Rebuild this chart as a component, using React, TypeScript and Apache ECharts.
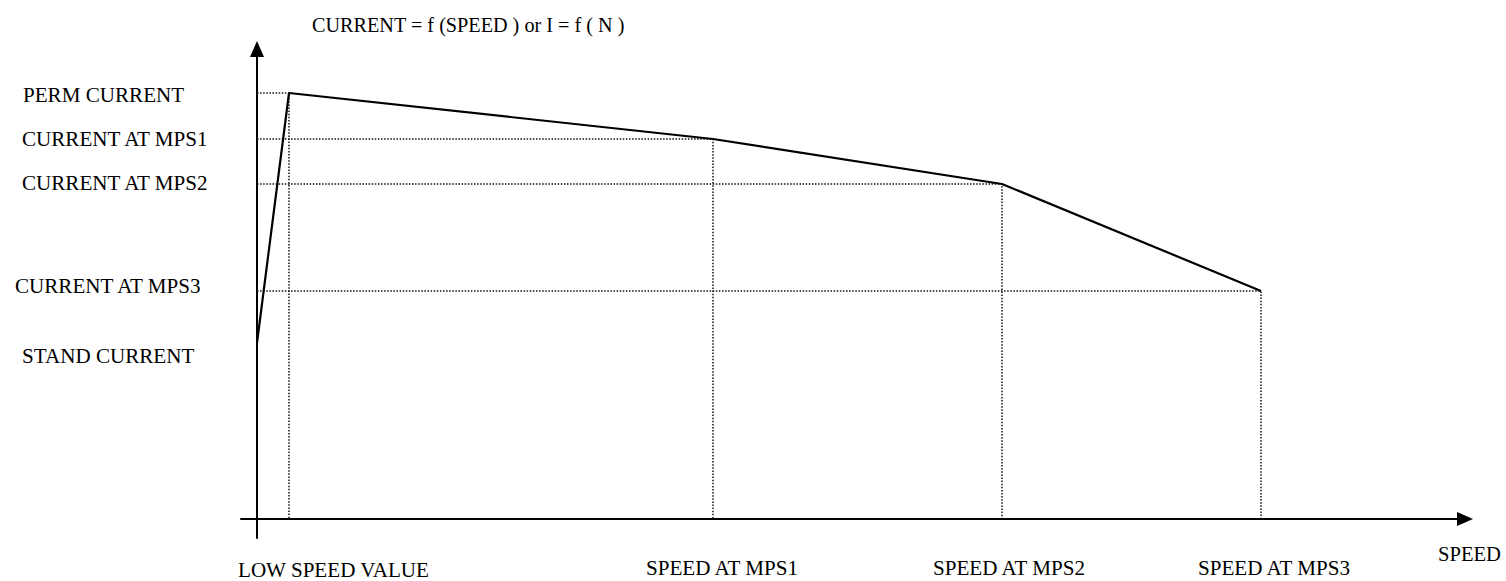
import React, { useEffect, useRef } from "react";
import * as echarts from "echarts";

const speedNames = ["LOW SPEED VALUE", "SPEED AT MPS1", "SPEED AT MPS2", "SPEED AT MPS3"];
const currentNames = ["PERM CURRENT", "CURRENT AT MPS1", "CURRENT AT MPS2", "CURRENT AT MPS3"];
const standName = "STAND CURRENT";
const speedValues = [32, 456, 745, 1004];
const currentValues = [426, 380, 335, 228];
const standCurrent = 176;
const titleText = "CURRENT = f (SPEED ) or I = f ( N )";
const xAxisName = "SPEED";

// ---- layout (pixel positions of the text, not data) ----
const FONT = '20px "Liberation Serif", "Times New Roman", serif';
const STRETCH = 1.055;
const leftLabelPos: [number, number][] = [
  [23, 95.5],
  [22, 139.5],
  [22, 183.5],
  [15, 286],
];
const standLabelPos: [number, number] = [22, 356];
const bottomLabelPos: [number, number][] = [
  [238, 570.5],
  [646, 568.5],
  [933, 568.5],
  [1198, 568.5],
];
const titlePos: [number, number] = [312, 25.5];
const axisNamePos: [number, number] = [1438, 554.5];

function txt(text: string, pos: [number, number], sx = STRETCH) {
  return {
    type: "text",
    x: pos[0],
    y: pos[1],
    scaleX: sx,
    silent: true,
    style: {
      text,
      font: FONT,
      fill: "#000",
      align: "left",
      textAlign: "left",
      verticalAlign: "middle",
      textVerticalAlign: "middle",
    },
  };
}

export default function App() {
  const ref = useRef<HTMLDivElement>(null);

  useEffect(() => {
    if (!ref.current) return;
    const chart = echarts.init(ref.current, null, { renderer: "svg" });

    const curve = [[0, standCurrent], ...speedValues.map((s, i) => [s, currentValues[i]])];
    const guideSeries = speedValues.map((s, i) => ({
      type: "line",
      data: [
        [0, currentValues[i]],
        [s, currentValues[i]],
        [s, 0],
      ],
      symbol: "none",
      silent: true,
      z: 1,
      lineStyle: { color: "#111", width: 1.5, type: [1.5, 1.6] },
    }));

    const axisLine = {
      show: true,
      onZero: true,
      symbol: ["none", "triangle"],
      symbolSize: [14, 16],
      lineStyle: { color: "#000", width: 2 },
    };

    const graphics: any[] = [
      txt(titleText, titlePos, 1.01),
      ...currentNames.map((n, i) => txt(n, leftLabelPos[i])),
      txt(standName, standLabelPos),
      ...speedNames.map((n, i) => txt(n, bottomLabelPos[i])),
      txt(xAxisName, axisNamePos, 1.03),
    ];

    chart.setOption({
      animation: false,
      backgroundColor: "#fff",
      grid: { left: 241, right: 41, top: 49, bottom: 43, containLabel: false },
      xAxis: {
        type: "value",
        min: -16,
        max: 1208,
        axisLine,
        axisTick: { show: false },
        axisLabel: { show: false },
        splitLine: { show: false },
      },
      yAxis: {
        type: "value",
        min: -19,
        max: 470,
        axisLine,
        axisTick: { show: false },
        axisLabel: { show: false },
        splitLine: { show: false },
      },
      graphic: graphics,
      series: [
        ...guideSeries,
        {
          type: "line",
          data: curve,
          symbol: "none",
          silent: true,
          z: 3,
          lineStyle: { color: "#000", width: 2.2 },
        },
      ],
    });

    return () => chart.dispose();
  }, []);

  return (
    <div
      ref={ref}
      style={{ position: "absolute", left: 0, top: 0, width: 1506, height: 581 }}
    />
  );
}
